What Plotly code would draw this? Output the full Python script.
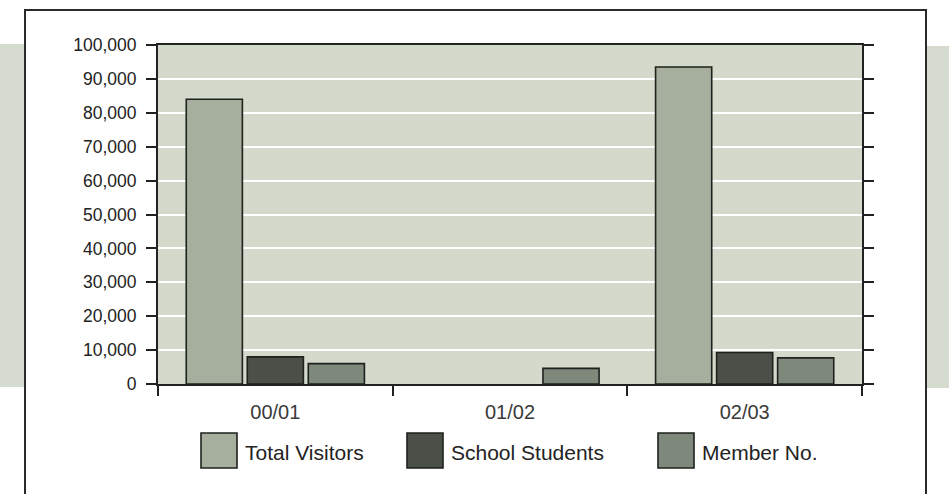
import plotly.graph_objects as go

# Visitor numbers per financial year
years = ["00/01", "01/02", "02/03"]
total_visitors = [84000, None, 93500]
school_students = [8000, None, 9300]
member_no = [6000, 4600, 7700]

series_names = ["Total Visitors", "School Students", "Member No."]
series_values = [total_visitors, school_students, member_no]
series_colors = ["#a6ae9d", "#4a5047", "#7e887b"]

y_ticks = list(range(0, 100001, 10000))

W, H = 949, 494
L, R, T, B = 158, 87, 45, 110
pw, ph = W - L - R, H - T - B


def px_x(px):
    return (px - L) / pw


def px_y(py):
    return (H - B - py) / ph


fig = go.Figure()
for name, vals, col in zip(series_names, series_values, series_colors):
    fig.add_trace(go.Bar(
        x=years, y=vals, name=name,
        marker=dict(color=col, line=dict(color="#1e211d", width=1.6)),
        showlegend=False,
    ))

font_main = "Liberation Sans, Arial, Helvetica, sans-serif"

shapes = []
# pale side bands outside the frame
band = "#d5dccf"
shapes.append(dict(type="rect", xref="paper", yref="paper", layer="below",
                   x0=px_x(-5), x1=px_x(25), y0=px_y(387), y1=px_y(44),
                   fillcolor=band, line=dict(width=0)))
shapes.append(dict(type="rect", xref="paper", yref="paper", layer="below",
                   x0=px_x(926), x1=px_x(955), y0=px_y(388), y1=px_y(46),
                   fillcolor=band, line=dict(width=0)))
# outer frame
shapes.append(dict(type="rect", xref="paper", yref="paper", layer="above",
                   x0=px_x(25), x1=px_x(926), y0=px_y(520), y1=px_y(10),
                   fillcolor="rgba(0,0,0,0)", line=dict(color="#2a2a2a", width=2)))

# legend: large swatches with labels
annotations = []
legend_x = [201, 407, 658]
for name, col, lx in zip(series_names, series_colors, legend_x):
    shapes.append(dict(type="rect", xref="paper", yref="paper", layer="above",
                       x0=px_x(lx), x1=px_x(lx + 36), y0=px_y(468), y1=px_y(433),
                       fillcolor=col, line=dict(color="#1e211d", width=1.6)))
    annotations.append(dict(xref="paper", yref="paper", x=px_x(lx + 42), y=px_y(452),
                            text=name, showarrow=False, xanchor="left", yanchor="middle",
                            font=dict(family=font_main, size=21, color="#222222")))

fig.update_layout(
    width=W, height=H,
    margin=dict(l=L, r=R, t=T, b=B, pad=0),
    paper_bgcolor="white",
    plot_bgcolor="#d3dacb",
    barmode="group",
    bargap=0.22,
    bargroupgap=0.08,
    shapes=shapes,
    annotations=annotations,
    xaxis=dict(
        type="category",
        showline=True, linecolor="#222222", linewidth=2, mirror=True,
        ticks="outside", ticklen=10, tickwidth=1.5, tickcolor="#222222",
        tickson="boundaries",
        showgrid=False,
        ticklabelstandoff=9,
        tickfont=dict(family=font_main, size=20, color="#3a3a3a"),
    ),
    yaxis=dict(
        range=[0, 100000],
        tickvals=y_ticks,
        tickformat=",",
        showline=True, linecolor="#222222", linewidth=2, mirror="ticks",
        ticks="outside", ticklen=10, tickwidth=1.5, tickcolor="#222222",
        showgrid=True, gridcolor="white", gridwidth=1.5,
        zeroline=False,
        ticklabelstandoff=6,
        tickfont=dict(family=font_main, size=17.5, color="#222222"),
    ),
)

fig.write_html("out.html")
